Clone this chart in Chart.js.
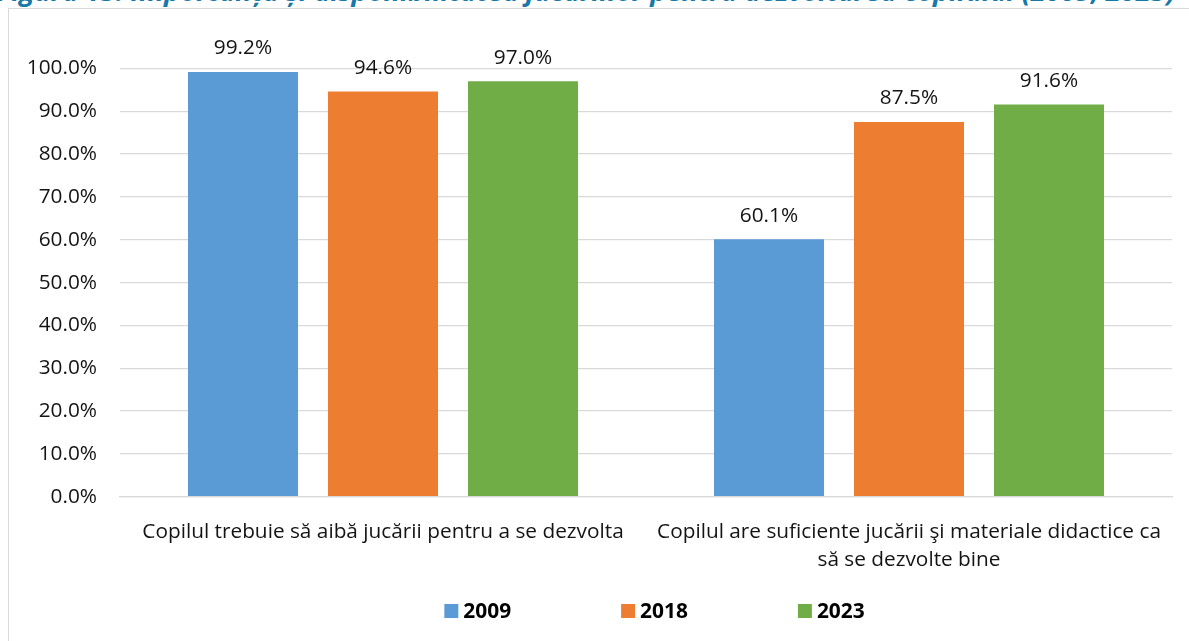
<!DOCTYPE html>
<html><head><meta charset="utf-8">
<script src="https://cdn.jsdelivr.net/npm/chart.js@4.4.1/dist/chart.umd.min.js"></script>
<style>
html,body{margin:0;padding:0;width:1189px;height:641px;overflow:hidden;background:#fff;}
#frame{position:absolute;left:8px;top:8px;width:1400px;height:800px;border-left:1.5px solid #d9d9d9;border-top:1.5px solid #d9d9d9;box-sizing:border-box;}
#title{position:absolute;left:-3px;top:-23px;white-space:nowrap;font:italic bold 27.3px 'Open Sans';line-height:27.3px;color:#1779aa;}
canvas{position:absolute;left:0;top:0;}
</style></head><body>
<div id="frame"></div>
<div id="title">Figura 13. Importanța și disponibilitatea jucăriilor pentru dezvoltarea copilului (2009, 2023)</div>
<canvas id="c" width="1189" height="641"></canvas>
<script>
const categories = [
  ["Copilul trebuie să aibă jucării pentru a se dezvolta"],
  ["Copilul are suficiente jucării şi materiale didactice ca", "să se dezvolte bine"]
];
const seriesNames = ["2009", "2018", "2023"];
const values2009 = [99.2, 60.1];
const values2018 = [94.6, 87.5];
const values2023 = [97.0, 91.6];
const yTickLabels = ["0.0%","10.0%","20.0%","30.0%","40.0%","50.0%","60.0%","70.0%","80.0%","90.0%","100.0%"];
const seriesColors = ["#5b9bd5", "#ed7d31", "#70ad47"];

const FONT = "'Open Sans'";
const FSIZE = 20.8;
const TEXT = "#141414";

const valueLabels = {
  id: 'valueLabels',
  afterDatasetsDraw(chart) {
    const ctx = chart.ctx;
    ctx.save();
    ctx.font = FSIZE + "px " + FONT;
    ctx.fillStyle = TEXT;
    ctx.textAlign = 'center';
    ctx.textBaseline = 'alphabetic';
    chart.data.datasets.forEach((ds, i) => {
      chart.getDatasetMeta(i).data.forEach((bar, j) => {
        ctx.fillText(ds.data[j].toFixed(1) + '%', bar.x, bar.y - 17.7);
      });
    });
    ctx.restore();
  }
};

const bottomLegend = {
  id: 'bottomLegend',
  afterDraw(chart) {
    const ctx = chart.ctx;
    ctx.save();
    ctx.font = "bold 20.9px " + FONT;
    ctx.textBaseline = 'middle';
    ctx.textAlign = 'left';
    const box = 14, gapBox = 5, gapItem = 110;
    const items = chart.data.datasets.map(ds => ({text: ds.label, color: ds.backgroundColor, w: box + gapBox + ctx.measureText(ds.label).width}));
    const total = items.reduce((s, it) => s + it.w, 0) + gapItem * (items.length - 1);
    let x = (chart.chartArea.left + chart.chartArea.right) / 2 + 8.5 - total / 2;
    const yc = 611;
    items.forEach(it => {
      ctx.fillStyle = it.color;
      ctx.fillRect(x, yc - box / 2, box, box);
      ctx.fillStyle = "#000";
      ctx.fillText(it.text, x + box + gapBox, yc + 1);
      x += it.w + gapItem;
    });
    ctx.restore();
  }
};

new Chart(document.getElementById('c'), {
  type: 'bar',
  data: {
    labels: categories,
    datasets: [
      {label: seriesNames[0], data: values2009, backgroundColor: seriesColors[0]},
      {label: seriesNames[1], data: values2018, backgroundColor: seriesColors[1]},
      {label: seriesNames[2], data: values2023, backgroundColor: seriesColors[2]}
    ]
  },
  options: {
    responsive: false,
    animation: false,
    devicePixelRatio: 1,
    layout: {padding: {left: 0, top: 68.5, right: 17, bottom: 0}},
    datasets: {bar: {categoryPercentage: 0.7985, barPercentage: 0.7857}},
    plugins: {legend: {display: false}, tooltip: {enabled: false}, title: {display: false}},
    scales: {
      x: {
        afterFit(s) { s.height = 641 - 496.7; },
        grid: {display: false, drawTicks: false},
        border: {display: true, color: "#d9d9d9", width: 1.3},
        ticks: {font: {family: FONT, size: FSIZE, lineHeight: 28 / FSIZE}, color: TEXT, padding: 21, maxRotation: 0, autoSkip: false}
      },
      y: {
        min: 0, max: 100,
        afterFit(s) { s.width = 120; },
        grid: {color: "#d9d9d9", lineWidth: 1.3, drawTicks: false},
        border: {display: false},
        ticks: {stepSize: 10, padding: 23, color: TEXT, font: {family: FONT, size: FSIZE},
          callback: (v, i) => yTickLabels[i]}
      }
    }
  },
  plugins: [valueLabels, bottomLegend]
});
</script>
</body></html>
